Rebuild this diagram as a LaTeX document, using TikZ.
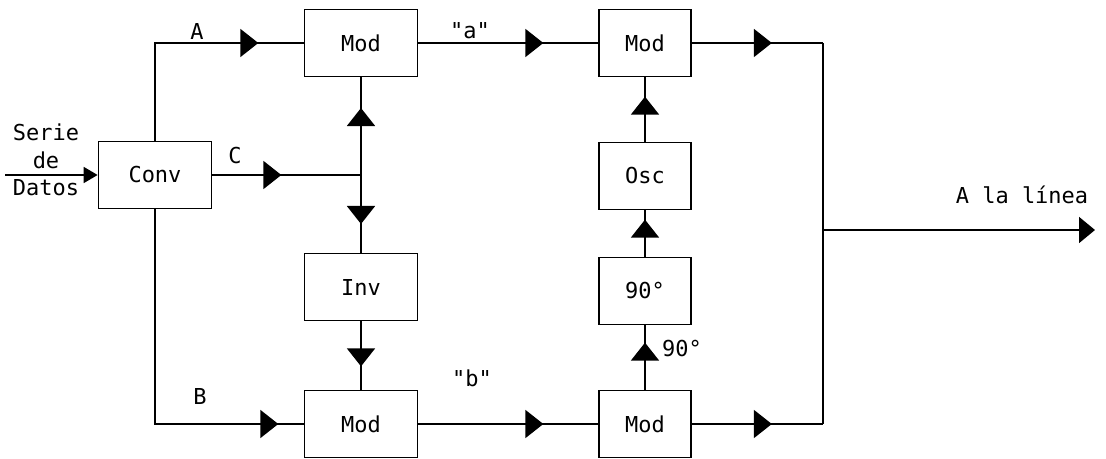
\documentclass[tikz,border=0pt]{standalone}
\usepackage{fontspec}
\setmainfont{DejaVu Sans Mono}
\usetikzlibrary{arrows.meta,decorations.markings}
\newcommand{\lbl}{\fontsize{12.5}{14}\selectfont}
\tikzset{
  blk/.style={draw,line width=1pt,minimum width=2.26cm,minimum height=1.34cm,font=\lbl},
  narrow/.style={blk,minimum width=1.84cm},
  wire/.style={line width=1pt},
  mid/.style={postaction={decorate},decoration={markings,
              mark=at position #1 with {\arrow{Triangle[length=3.6mm,width=5.6mm]}}}},
  tag/.style={font=\lbl,inner sep=1pt},
}
\begin{document}
\begin{tikzpicture}[x=0.02cm,y=-0.02cm]
    \useasboundingbox (0,0) rectangle (1106,459);
    % Blocks
    \node[blk] (conv) at (155,175) {Conv};
    \node[blk] (moda) at (361,43) {Mod};
    \node[blk] (inv) at (361,287) {Inv};
    \node[blk] (modb) at (361,424) {Mod};
    \node[narrow] (modc) at (645,43) {Mod};
    \node[narrow] (osc) at (645,176) {Osc};
    \node[narrow] (shift) at (645,291) {90°};
    \node[narrow] (modd) at (645,424) {Mod};
    % Free ends and junctions
    \coordinate (src) at (5,175);
    \coordinate (jc) at (moda.south |- conv.east);
    \coordinate (ta) at (823,43);
    \coordinate (tb) at (823,424);
    \coordinate (tout) at (823,230);
    \coordinate (linea) at (1095,230);
    % Connectors
    \draw[wire,-{Triangle[length=2.8mm,width=3.2mm]}] (src) -- (conv.west);
    \draw[wire,mid=4.02cm] (conv.north) -- (conv.north |- moda.west) -- (moda.west);
    \draw[wire,mid=6.76cm] (conv.south) -- (conv.south |- modb.west) -- (modb.west);
    \draw[wire,mid=1.38cm] (conv.east) -- (jc);
    \draw[wire,mid=1.34cm] (jc) -- (moda.south);
    \draw[wire,mid=0.98cm] (jc) -- (inv.north);
    \draw[wire,mid=0.9cm] (inv.south) -- (modb.north);
    \draw[wire,mid=2.5cm] (moda.east) -- (modc.west);
    \draw[wire,mid=2.5cm] (modb.east) -- (modd.west);
    \draw[wire,mid=0.9cm] (osc.north) -- (modc.south);
    \draw[wire,mid=0.74cm] (shift.north) -- (osc.south);
    \draw[wire,mid=0.94cm] (modd.north) -- (shift.south);
    \draw[wire,mid=1.6cm] (modc.east) -- (ta);
    \draw[wire,mid=1.6cm] (modd.east) -- (tb);
    \draw[wire] (ta) -- (tb);
    \draw[wire,-{Triangle[length=3.2mm,width=5.2mm]}] (tout) -- (linea);
    % Labels
    \node[tag,align=center] (datos) at (46,160) {Serie\\[1.5pt]de\\[1.5pt]Datos};
    \node[tag] (laba) at (197,31) {A};
    \node[tag] (labc) at (235,156) {C};
    \node[tag] (labb) at (200,396) {B};
    \node[tag] (sa) at (470,31) {\textquotedbl a\textquotedbl};
    \node[tag] (sb) at (472,378) {\textquotedbl b\textquotedbl};
    \node[tag,anchor=west] (deg) at (660,349) {90°};
    \node[tag] (out) at (1022,195) {A la línea};
\end{tikzpicture}
\end{document}
